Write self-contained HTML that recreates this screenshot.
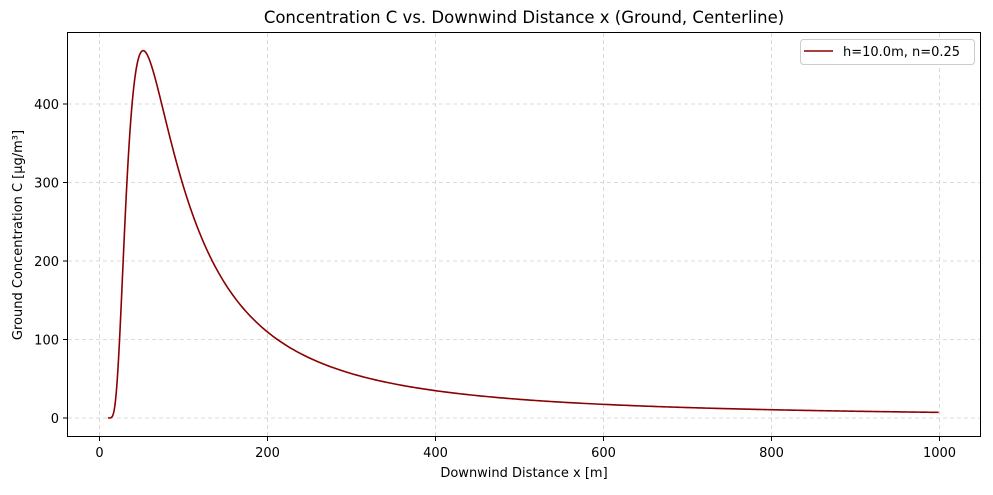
<!DOCTYPE html>
<html><head><meta charset="utf-8"><style>
body{margin:0;background:#fff;}
svg{display:block;font-family:"DejaVu Sans","Liberation Sans",sans-serif;}
</style></head><body>
<svg id="s" width="993" height="495" viewBox="0 0 993 495">
<rect width="993" height="495" fill="#fff"/>
<g id="grid" stroke="#cfcfcf" stroke-width="0.8" stroke-dasharray="4,3"></g>
<rect x="67.5" y="32.5" width="913" height="404" fill="none" stroke="#000" stroke-width="1"/>
<g id="ticks" font-size="13" fill="#000"></g>
<path id="curve" fill="none" stroke="#8b0000" stroke-width="1.6"/>
<text x="524" y="23" font-size="16.5" text-anchor="middle">Concentration C vs. Downwind Distance x (Ground, Centerline)</text>
<text x="524" y="477" font-size="13" text-anchor="middle">Downwind Distance x [m]</text>
<text transform="translate(22,235) rotate(-90)" font-size="13" text-anchor="middle">Ground Concentration C [µg/m³]</text>
<rect x="800.5" y="39.5" width="174" height="25" rx="3" fill="#fff" stroke="#ccc"/>
<line x1="804" y1="51" x2="833" y2="51" stroke="#8b0000" stroke-width="1.6"/>
<text x="843" y="56" font-size="13">h=10.0m, n=0.25</text>
</svg>
<script>
const X=x=>99.5+x*0.84, Y=c=>418-c*0.785;
const g=document.getElementById('grid'),t=document.getElementById('ticks');
let gs='',ts='';
for(let v=0;v<=1000;v+=200){const px=X(v);gs+=`<line x1="${px}" y1="33" x2="${px}" y2="436"/>`;
ts+=`<line x1="${px}" y1="437" x2="${px}" y2="441" stroke="#000"/><text x="${px}" y="457" text-anchor="middle">${v}</text>`;}
for(let v=0;v<=400;v+=100){const py=Y(v);gs+=`<line x1="68" y1="${py}" x2="980" y2="${py}"/>`;
ts+=`<line x1="63" y1="${py}" x2="67" y2="${py}" stroke="#000"/><text x="59" y="${py+5}" text-anchor="end">${v}</text>`;}
g.innerHTML=gs;t.innerHTML=ts;
const p=1.75,x0=52,peak=468;
const f=x=>{const r=Math.pow(x0/x,p);return peak*r*Math.exp(1-r);};
let d='';
for(let x=10;x<=1000;x+=(x<120?0.5:3)){d+=(d?'L':'M')+X(x).toFixed(2)+','+Y(f(x)).toFixed(2);}
document.getElementById('curve').setAttribute('d',d);
</script>
</body></html>
